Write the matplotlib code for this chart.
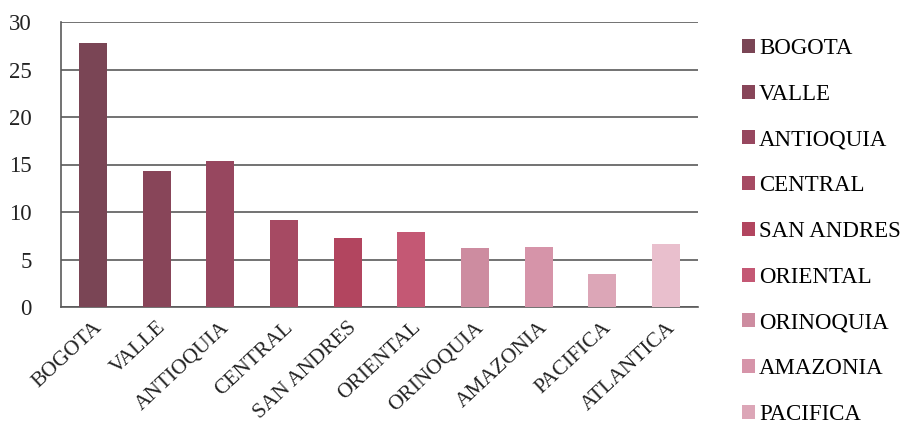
import matplotlib.pyplot as plt
from matplotlib.patches import Patch

regions = ['BOGOTA', 'VALLE', 'ANTIOQUIA', 'CENTRAL', 'SAN ANDRES',
           'ORIENTAL', 'ORINOQUIA', 'AMAZONIA', 'PACIFICA', 'ATLANTICA']
values = [27.8, 14.3, 15.4, 9.2, 7.3, 7.9, 6.2, 6.3, 3.5, 6.6]
colors = ['#7a4555', '#884559', '#97475f', '#a64a63', '#b2455f',
          '#c45874', '#cd8ca0', '#d694a9', '#dca6b7', '#e9bfcd']

plt.rcParams['font.family'] = ['Liberation Serif', 'DejaVu Serif']

fig = plt.figure(figsize=(9.07, 4.46), dpi=100)
ax = fig.add_axes([61 / 907, 1 - 307 / 446, 637 / 907, 285 / 446])

x = range(len(regions))
ax.bar(x, values, width=0.44, color=colors, zorder=3)

ax.set_ylim(0, 30)
ax.set_xlim(-0.5, len(regions) - 0.5)
ax.set_yticks(range(0, 31, 5))
ax.yaxis.grid(True, color='#5a5a5a', linewidth=1.2, zorder=0)
ax.tick_params(axis='both', length=0, colors='#222222')
ax.tick_params(axis='y', labelsize=16.5, pad=21)
ax.tick_params(axis='x', pad=8)
ax.set_xticks(list(x))
ax.set_xticklabels(regions, rotation=43, ha='right', rotation_mode='anchor',
                   fontsize=15.5)
for s in ['top', 'right']:
    ax.spines[s].set_visible(False)
for s in ['left', 'bottom']:
    ax.spines[s].set_color('#5a5a5a')
    ax.spines[s].set_linewidth(1.2)

# legend only lists the first nine regions
handles = [Patch(facecolor=c, label=r) for r, c in zip(regions[:9], colors[:9])]
fig.legend(handles=handles, loc='upper left', bbox_to_anchor=(742 / 907, 1 - 38 / 446),
           frameon=False, fontsize=16.5, handlelength=0.55, handleheight=0.55,
           handletextpad=0.2, labelspacing=1.08, borderpad=0, borderaxespad=0)

fig.savefig('out.png', dpi=100)
